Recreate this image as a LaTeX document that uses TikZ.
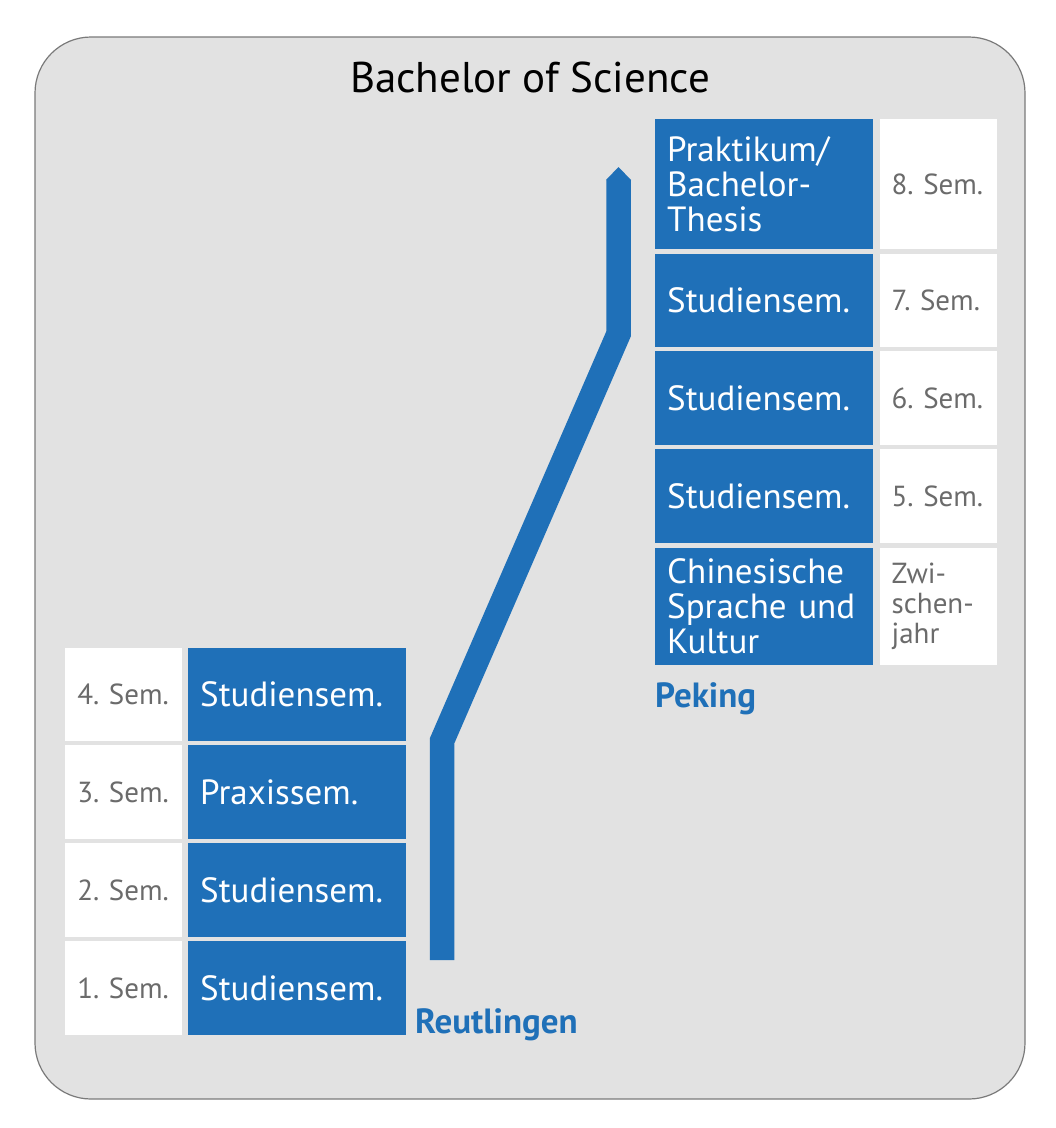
\documentclass[tikz,border=0pt]{standalone}
\usepackage{fontspec}
\setmainfont{PT Sans}
\usepackage{xcolor}
\definecolor{frameback}{HTML}{E2E2E2}
\definecolor{frameline}{HTML}{7A7A7A}
\definecolor{semblue}{HTML}{1F70B8}
\definecolor{semgray}{HTML}{6B6B6B}
\usetikzlibrary{positioning}

\begin{document}
\frenchspacing
\begin{tikzpicture}[x=1pt, y=-1pt,
    bluebox/.style={fill=semblue, text=white, anchor=north west, minimum height=93.5pt,
      text width=194pt, inner xsep=12pt, inner ysep=0pt, align=left,
      font=\fontsize{35}{35}\selectfont},
    whitebox/.style={fill=white, text=semgray, minimum height=93.5pt,
      text width=93pt, inner xsep=12pt, inner ysep=0pt, align=left,
      font=\fontsize{29}{30}\selectfont},
    place/.style={text=semblue, inner sep=0pt, anchor=base west,
      font=\bfseries\fontsize{35}{40}\selectfont}]
  \useasboundingbox (0,0) rectangle (1056,1128);
  \draw[frameline, fill=frameback, line width=1.2pt, rounded corners=56pt] (35,37) rectangle (1025,1099);
  \node[font=\fontsize{43}{48}\selectfont, anchor=base, inner sep=0pt] (title) at (530,92) {Bachelor of Science};

  % Reutlingen
  \node[bluebox] (r1) at (188,941) {Studiensem.};
  \node[bluebox, above=4pt of r1] (r2) {Studiensem.};
  \node[bluebox, above=4pt of r2] (r3) {Praxissem.};
  \node[bluebox, above=4pt of r3] (r4) {Studiensem.};
  \node[whitebox, left=5.5pt of r1] (s1) {1.~Sem.};
  \node[whitebox, left=5.5pt of r2] (s2) {2.~Sem.};
  \node[whitebox, left=5.5pt of r3] (s3) {3.~Sem.};
  \node[whitebox, left=5.5pt of r4] (s4) {4.~Sem.};
  \node[place] (reutlingen) at (415,1033) {Reutlingen};

  % Peking
  \node[bluebox, minimum height=117pt] (p0) at (655,548) {Chinesische\\Sprache~und\\Kultur};
  \node[bluebox, above=5pt of p0] (p5) {Studiensem.};
  \node[bluebox, above=4pt of p5] (p6) {Studiensem.};
  \node[bluebox, above=4pt of p6] (p7) {Studiensem.};
  \node[bluebox, above=4pt of p7, minimum height=130pt] (p8) {Praktikum/\\Bachelor-\\Thesis};
  \node[whitebox, right=6pt of p0, minimum height=117pt] (s0) {Zwi-\\schen-\\jahr};
  \node[whitebox, right=6pt of p5] (s5) {5.~Sem.};
  \node[whitebox, right=6pt of p6] (s6) {6.~Sem.};
  \node[whitebox, right=6pt of p7] (s7) {7.~Sem.};
  \node[whitebox, right=6pt of p8, minimum height=130pt] (s8) {8.~Sem.};
  \node[place] (peking) at (655,707) {Peking};

  % way from Reutlingen to Peking
  \coordinate (wayA) at (442,960);
  \coordinate (wayB) at (442,741);
  \coordinate (wayC) at (618.5,334);
  \coordinate (wayD) at (618.5,180);
  \coordinate (wayTip) at (618.5,167);
  \draw[semblue, line width=24.5pt, line join=miter] (wayA) -- (wayB) -- (wayC) -- (wayD);
  \fill[semblue] ([xshift=-12.5pt]wayD) -- (wayTip) -- ([xshift=12.5pt]wayD) -- cycle;
\end{tikzpicture}
\end{document}
